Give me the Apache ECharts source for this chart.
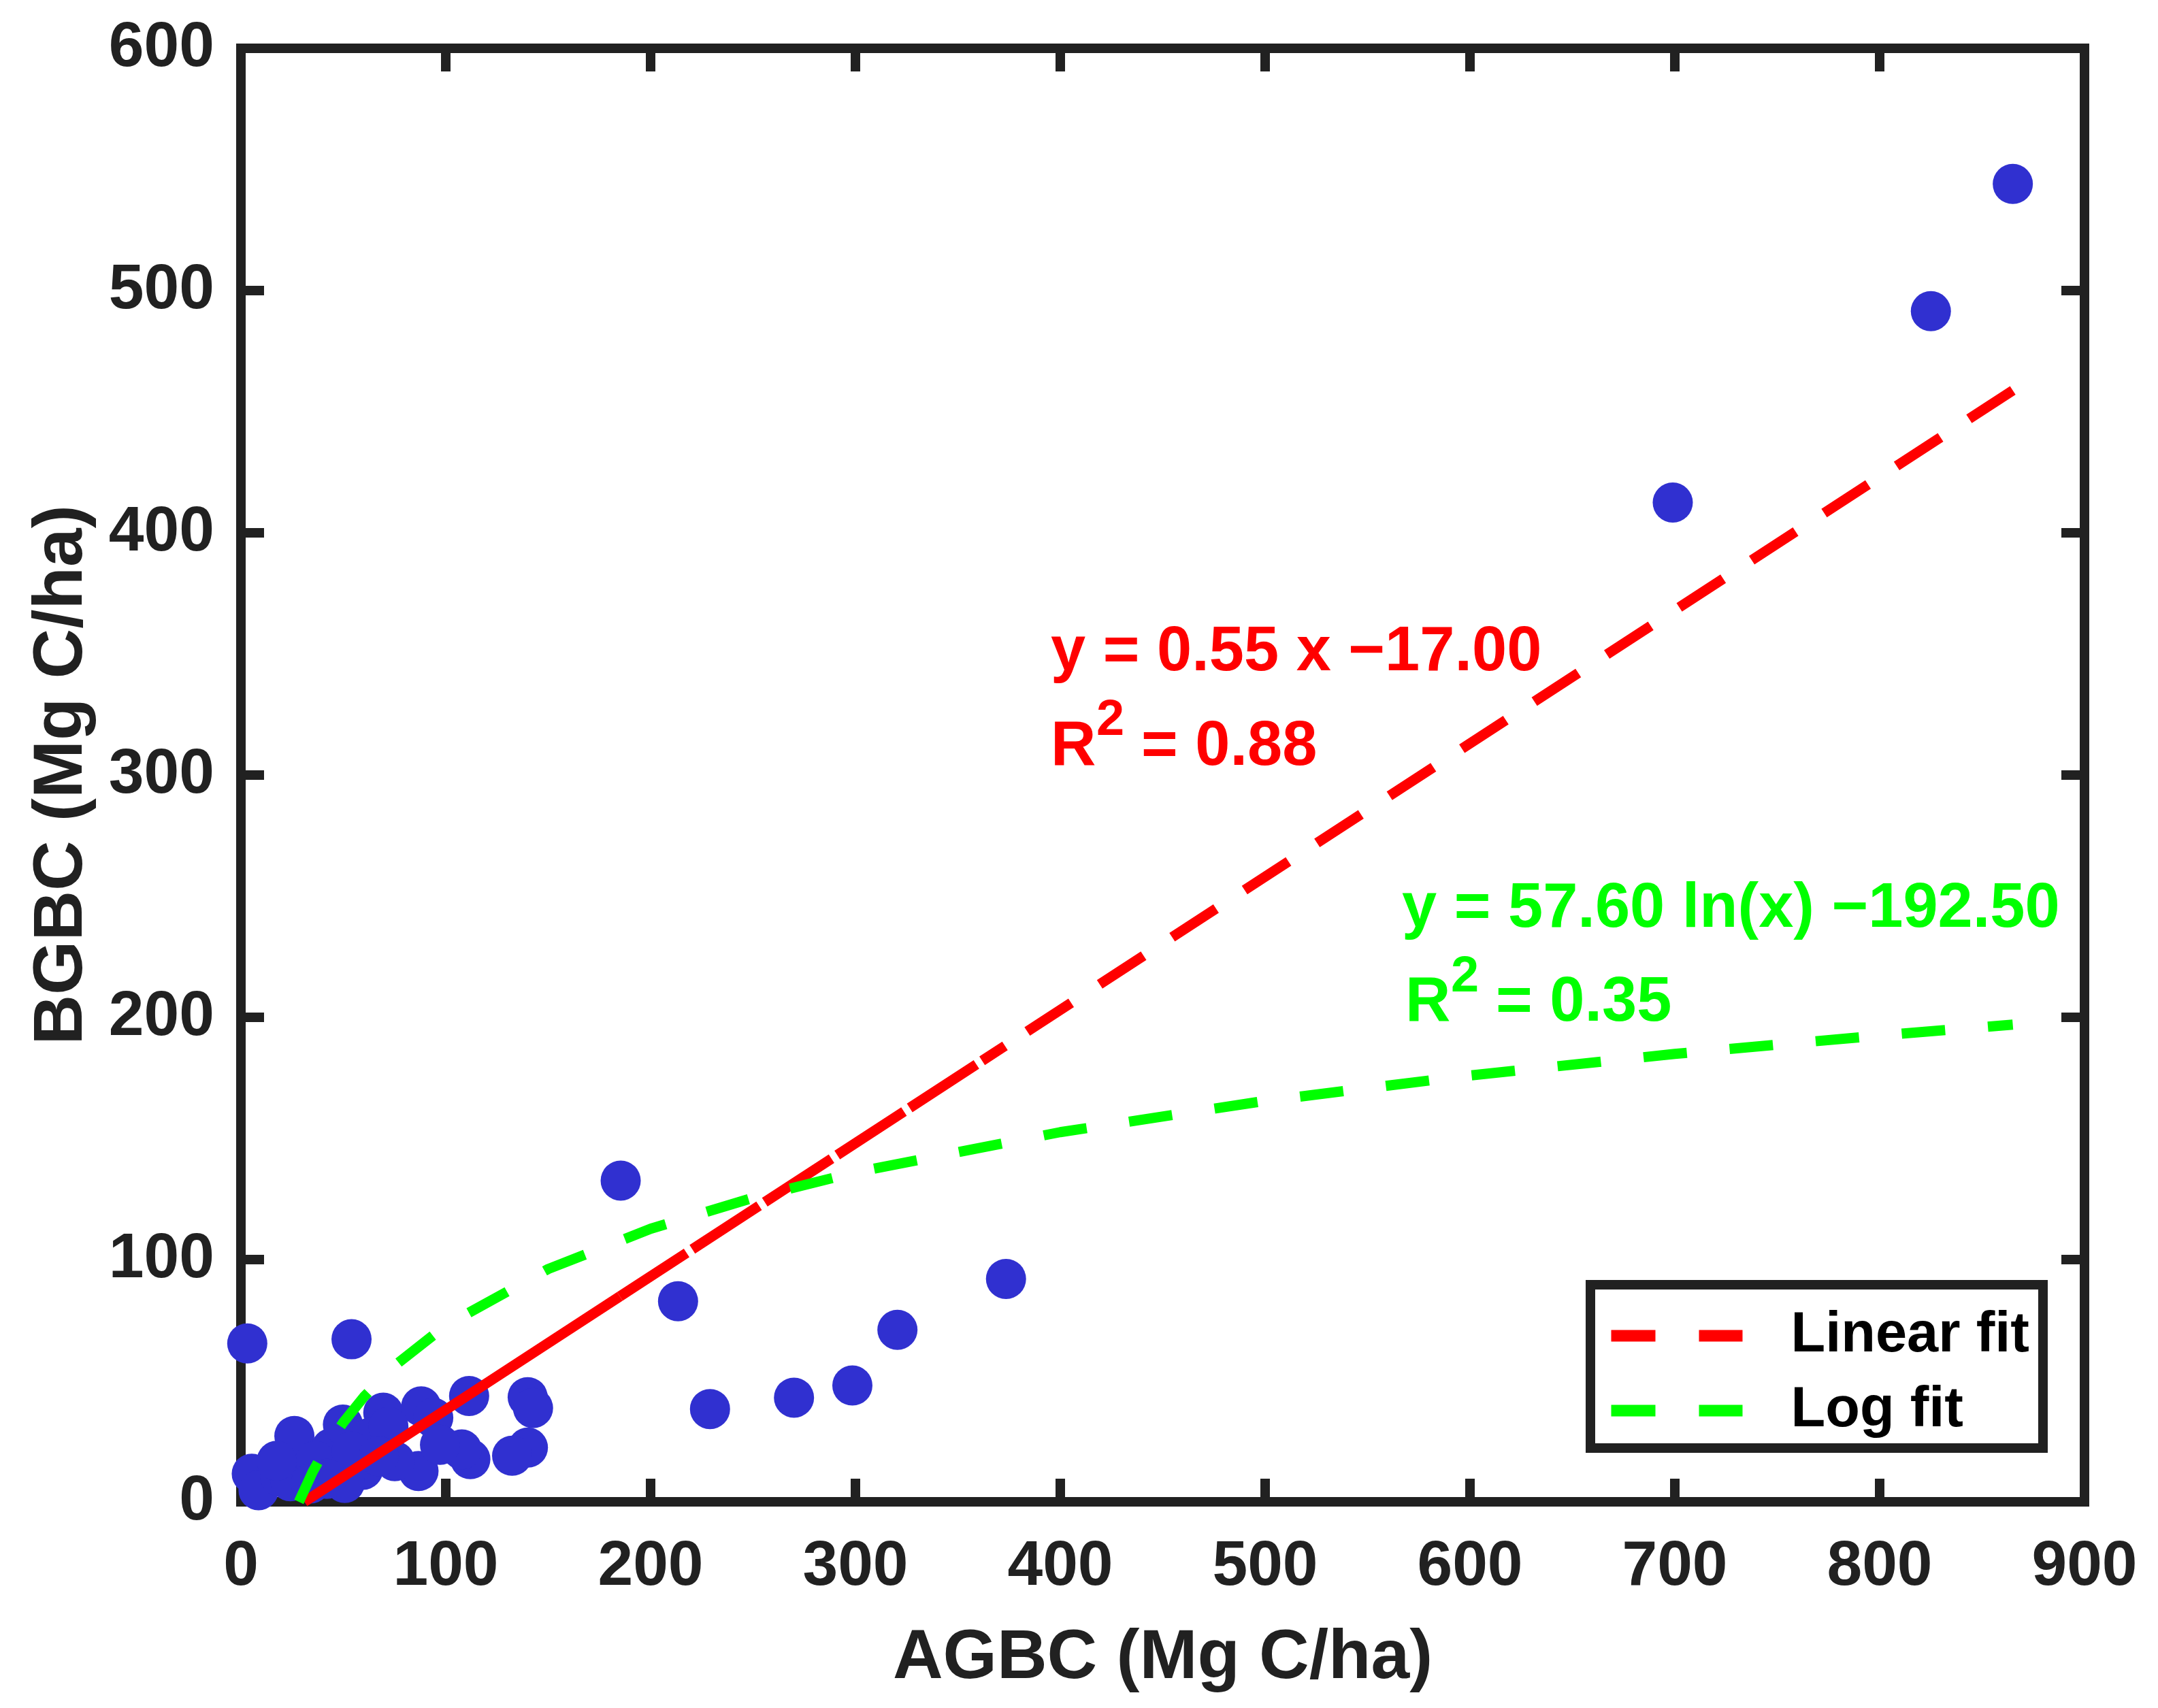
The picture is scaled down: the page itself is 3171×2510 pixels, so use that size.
<!DOCTYPE html>
<html>
<head>
<meta charset="utf-8">
<script src="https://cdn.jsdelivr.net/npm/echarts@6/dist/echarts.min.js"></script>
<style>
html,body{margin:0;padding:0;background:#fff;}
#chart{width:3171px;height:2510px;}
</style>
</head>
<body>
<div id="chart"></div>
<script>
// ---- data ----
const agbc = [3.1, 54.0, 5.3, 8.6, 19.2, 26.1, 24.1, 44.1, 49.8, 69.5, 88.0, 93.9, 111.4, 140.0, 142.6, 140.1, 132.4, 112.0, 107.8, 86.7, 75.1, 59.6, 50.7, 97.2, 62.6, 36.3, 34.1, 54.0, 72.0, 17.5, 67.3, 41.9,
              185.4, 213.4, 229.0, 270.0, 298.5, 320.5, 373.5, 699.0, 825.0, 865.0];
const bgbc = [65.4, 67.1, 11.6, 4.8, 10.4, 27.2, 8.5, 22.1, 31.9, 36.8, 39.4, 34.7, 43.7, 43.2, 38.7, 22.4, 19.0, 17.6, 21.6, 12.7, 16.8, 13.2, 7.8, 23.5, 26.3, 16.9, 7.6, 20.7, 31.0, 16.9, 18.8, 9.5,
              132.6, 82.8, 38.3, 43.0, 48.0, 71.0, 92.0, 412.5, 491.5, 544.0];

// linear fit line
const linX = [31, 185, 373, 865];
const linY = [0, 84.8, 188.2, 458.8];

// log fit curve
const logX = [28.3, 35, 40, 50, 60, 75, 100, 150, 200, 250, 300, 400, 500, 600, 700, 800, 865];
const logY = [0, 12.3, 20.0, 32.8, 43.3, 56.2, 72.8, 96.1, 112.7, 125.5, 136.0, 152.6, 165.5, 176.0, 184.9, 192.5, 197.0];

const xTicks = {min: 0, max: 900, interval: 100};
const yTicks = {min: 0, max: 600, interval: 100};

const xTitle = 'AGBC (Mg C/ha)';
const yTitle = 'BGBC (Mg C/ha)';
const linEq = 'y = 0.55 x \u221217.00';
const linR2 = '= 0.88';
const logEq = 'y = 57.60 ln(x) \u2212192.50';
const logR2 = '= 0.35';

// ---- chart ----
const FONT = '"Liberation Sans", Arial, Helvetica, sans-serif';
const AX = '#212121';
const chart = echarts.init(document.getElementById('chart'), null, {renderer: 'canvas', width: 3171, height: 2510});

const pts = agbc.map((x, i) => [x, bgbc[i]]);
const linPts = linX.map((x, i) => [x, linY[i]]);
const logPts = logX.map((x, i) => [x, logY[i]]);

const axisLineStyle = {color: AX, width: 14, cap: 'square'};
const tickStyle = {show: true, inside: true, length: 34, lineStyle: {color: AX, width: 14}};
const labelStyle = {fontSize: 93, fontWeight: 'bold', color: AX, fontFamily: FONT};
const titleStyle = {fontSize: 102, fontWeight: 'bold', color: AX, fontFamily: FONT};

function txt(text, x, y, size, color) {
  return {type: 'text', x: x, y: y, silent: true, z: 100,
    style: {text: text, fill: color, font: 'bold ' + size + 'px ' + FONT, textAlign: 'left', textVerticalAlign: 'middle', verticalAlign: 'middle'}};
}

const option = {
  animation: false,
  backgroundColor: '#ffffff',
  textStyle: {fontFamily: FONT},
  grid: {left: 354, right: 108, top: 71, bottom: 303, containLabel: false, outerBoundsMode: 'none'},
  xAxis: [
    {type: 'value', position: 'bottom', min: xTicks.min, max: xTicks.max, interval: xTicks.interval,
     axisLine: {show: true, onZero: false, lineStyle: axisLineStyle}, axisTick: tickStyle,
     splitLine: {show: false}, axisLabel: Object.assign({margin: 50}, labelStyle),
     name: xTitle, nameLocation: 'middle', nameGap: 180, nameTextStyle: titleStyle},
    {type: 'value', position: 'top', min: xTicks.min, max: xTicks.max, interval: xTicks.interval,
     axisLine: {show: true, onZero: false, lineStyle: axisLineStyle}, axisTick: tickStyle,
     splitLine: {show: false}, axisLabel: {show: false}}
  ],
  yAxis: [
    {type: 'value', position: 'left', min: yTicks.min, max: yTicks.max, interval: yTicks.interval,
     axisLine: {show: true, onZero: false, lineStyle: axisLineStyle}, axisTick: tickStyle,
     splitLine: {show: false}, axisLabel: Object.assign({margin: 39}, labelStyle),
     name: yTitle, nameLocation: 'middle', nameGap: 211, nameRotate: 90, nameTextStyle: titleStyle},
    {type: 'value', position: 'right', min: yTicks.min, max: yTicks.max, interval: yTicks.interval,
     axisLine: {show: true, onZero: false, lineStyle: axisLineStyle}, axisTick: tickStyle,
     splitLine: {show: false}, axisLabel: {show: false}}
  ],
  legend: {
    data: ['Linear fit', 'Log fit'],
    orient: 'vertical', left: 2337, top: 1888,
    padding: [30, 20, 10, 22], itemGap: 20,
    itemWidth: 193, itemHeight: 17,
    borderColor: AX, borderWidth: 14, backgroundColor: '#ffffff',
    selectedMode: false,
    itemStyle: {color: 'rgba(0,0,0,0)', borderWidth: 0, opacity: 0},
    lineStyle: {type: [65, 64], width: 17, opacity: 1},
    textStyle: {fontSize: 83, fontWeight: 'bold', color: '#000000', fontFamily: FONT, lineHeight: 90, padding: [0, 0, 0, 66]}
  },
  series: [
    {type: 'scatter', name: 'Data', data: pts, symbol: 'circle', symbolSize: 59,
     itemStyle: {color: '#3030D0', opacity: 1}, z: 2},
    {type: 'line', name: 'Linear fit', data: linPts.slice(0, 2), symbol: 'none', showSymbol: false,
     lineStyle: {color: '#FF0000', width: 15, type: 'solid', cap: 'butt'}, itemStyle: {color: '#FF0000'}, z: 3},
    {type: 'line', name: 'Linear fit', data: linPts.slice(1, 3), symbol: 'none', showSymbol: false,
     lineStyle: {color: '#FF0000', width: 15, type: [117, 10], cap: 'butt'}, itemStyle: {color: '#FF0000'}, z: 3},
    {type: 'line', name: 'Linear fit', data: linPts.slice(2, 4), symbol: 'none', showSymbol: false,
     lineStyle: {color: '#FF0000', width: 15, type: [77, 50], dashOffset: 88, cap: 'butt'}, itemStyle: {color: '#FF0000'}, z: 3},
    {type: 'line', name: 'Log fit', data: logPts, symbol: 'none', showSymbol: false, smooth: false,
     lineStyle: {color: '#00FF00', width: 15, type: [64, 63], cap: 'butt'}, itemStyle: {color: '#00FF00'}, z: 4}
  ],
  graphic: [
    txt(linEq, 1544, 960, 92, '#FF0000'),
    txt('R', 1544, 1099, 92, '#FF0000'),
    txt('2', 1611, 1060, 74, '#FF0000'),
    txt(linR2, 1677, 1099, 92, '#FF0000'),
    txt(logEq, 2060, 1337, 92, '#00FF00'),
    txt('R', 2065, 1475, 92, '#00FF00'),
    txt('2', 2132, 1437, 74, '#00FF00'),
    txt(logR2, 2198, 1475, 92, '#00FF00')
  ]
};
chart.setOption(option);
</script>
</body>
</html>
